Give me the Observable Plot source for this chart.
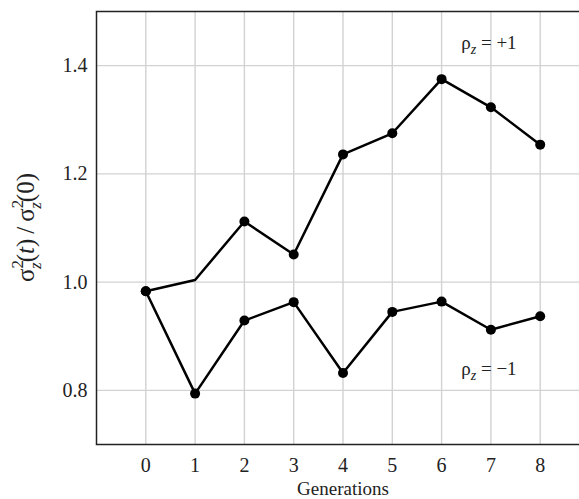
<!DOCTYPE html>
<html>
<head>
<meta charset="utf-8">
<script src="https://cdn.jsdelivr.net/npm/d3@7"></script>
<script src="https://cdn.jsdelivr.net/npm/@observablehq/plot@0.6"></script>
<style>
  html, body { margin: 0; padding: 0; background: #fff; overflow: hidden; }
  #chart svg { display: block; max-width: none !important; }
</style>
</head>
<body>
<div id="chart"></div>
<script>
const generations = [0, 1, 2, 3, 4, 5, 6, 7, 8];
const rhoPlus  = [0.983, 1.004, 1.112, 1.051, 1.236, 1.275, 1.375, 1.323, 1.254];
const rhoMinus = [0.983, 0.794, 0.929, 0.963, 0.832, 0.945, 0.964, 0.912, 0.937];
const plusMarked  = [true, false, true, true, true, true, true, true, true];
const minusMarked = [true, true, true, true, true, true, true, true, true];
const xTicks = [0, 1, 2, 3, 4, 5, 6, 7, 8];
const yTicks = [0.8, 1.0, 1.2, 1.4];
const labels = [
  {g: 6.96, v: 1.4425, text: "ρz = +1"},
  {g: 6.96, v: 0.840, text: "ρz = −1"}
];

const plusData = generations.map((g, i) => ({g, v: rhoPlus[i], marked: plusMarked[i]}));
const minusData = generations.map((g, i) => ({g, v: rhoMinus[i], marked: minusMarked[i]}));

const font = "'Liberation Serif', 'DejaVu Serif', serif";

const plot = Plot.plot({
  width: 590,
  height: 499,
  marginLeft: 96,
  marginRight: 1,
  marginTop: 11,
  marginBottom: 55,
  style: {fontFamily: font, fontSize: "20px", color: "#222", background: "#fff", maxWidth: "none"},
  x: {domain: [-1, 9], ticks: xTicks, tickSize: 0, tickPadding: 13, label: null, tickFormat: d => String(d)},
  y: {domain: [0.7, 1.5], ticks: yTicks, tickSize: 0, tickPadding: 9, label: null, tickFormat: d3.format(".1f")},
  marks: [
    Plot.gridX(xTicks, {stroke: "#d2d2d2", strokeOpacity: 1, strokeWidth: 1.4}),
    Plot.gridY(yTicks, {stroke: "#d2d2d2", strokeOpacity: 1, strokeWidth: 1.4}),
    Plot.frame({stroke: "#222", strokeWidth: 1.5}),
    Plot.line(plusData, {x: "g", y: "v", stroke: "#000", strokeWidth: 2.5}),
    Plot.line(minusData, {x: "g", y: "v", stroke: "#000", strokeWidth: 2.5}),
    Plot.dot(plusData.filter(d => d.marked), {x: "g", y: "v", r: 5, fill: "#000", stroke: "none"}),
    Plot.dot(minusData.filter(d => d.marked), {x: "g", y: "v", r: 5, fill: "#000", stroke: "none"}),
    Plot.text(labels, {x: "g", y: "v", text: "text", fontSize: 19, fill: "#222", textAnchor: "middle"}),
    Plot.text(["Generations"], {frameAnchor: "bottom", dy: 37, lineAnchor: "top", fontSize: 19, fill: "#222"})
  ]
});

document.getElementById("chart").appendChild(plot);
const svg = d3.select(plot);

// subscript z on the ρ labels
svg.selectAll("text").each(function() {
  const t = this.textContent;
  if (t.startsWith("ρz")) {
    const el = d3.select(this);
    const rest = t.slice(2);
    el.text(null);
    el.append("tspan").text("ρ");
    el.append("tspan").attr("font-size", 14).attr("font-style", "italic").attr("dy", 5).text("z");
    el.append("tspan").attr("dy", -5).text(rest);
  }
});

// y-axis label with super/subscripts
const ylab = svg.append("text")
  .attr("transform", "translate(25,227.5) rotate(-90)")
  .attr("text-anchor", "middle")
  .attr("dy", "0.35em")
  .attr("font-family", font)
  .attr("font-size", 25)
  .attr("fill", "#222");
function sigmaSq(sel) {
  sel.append("tspan").text("σ");
  sel.append("tspan").attr("font-size", 17).attr("dy", -11).text("2");
  sel.append("tspan").attr("font-size", 17).attr("font-style", "italic").attr("dx", -9).attr("dy", 18).text("z");
}
sigmaSq(ylab);
ylab.append("tspan").attr("dy", -7).text("(");
ylab.append("tspan").attr("font-style", "italic").text("t");
ylab.append("tspan").text(")\u2009/\u2009");
sigmaSq(ylab);
ylab.append("tspan").attr("dy", -7).text("(0)");
</script>
</body>
</html>
